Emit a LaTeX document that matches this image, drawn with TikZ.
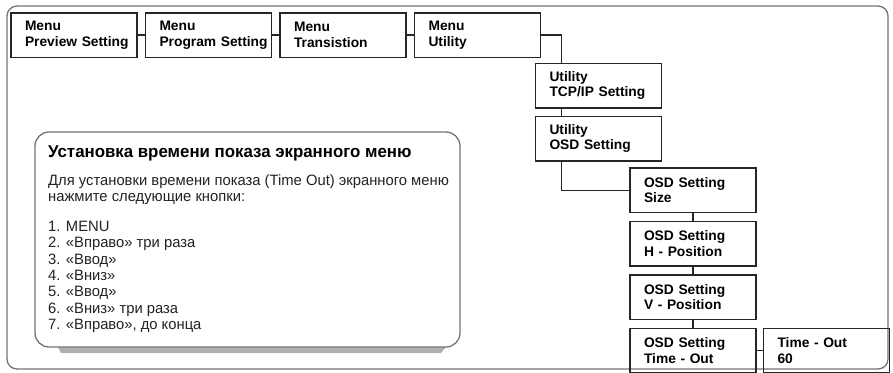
\documentclass[tikz,border=0pt]{standalone}
\usepackage{fontspec}
\setmainfont{Liberation Sans}
\newfontfamily\narrowfont{Liberation Sans}[FakeStretch=0.985]
\usetikzlibrary{positioning}
\definecolor{framegray}{RGB}{115,115,115}
\definecolor{shadowgray}{RGB}{175,175,175}
\definecolor{textgray}{RGB}{35,35,35}
\hyphenpenalty=10000
\exhyphenpenalty=10000

\begin{document}
\begin{tikzpicture}[x=1pt, y=-1pt,
            menubox/.style={rectangle, draw=black!85, line width=1.5pt,
                       minimum width=126pt, minimum height=44.5pt,
                       inner xsep=14pt, inner ysep=0pt, text width=98pt, align=left,
                       font=\fontsize{13.8}{15.5}\selectfont\bfseries},
            link/.style={line width=1.3pt, black!85},
            infotext/.style={inner sep=0pt, align=left, text=textgray,
                       font=\narrowfont\fontsize{15}{16.3}\selectfont}
        ]
            % Frame and background
            \useasboundingbox (0,0) rectangle (893,372);
            \draw[framegray, line width=1.3pt, rounded corners=10pt] (7,6) rectangle (888,369);

            % Top menu row
            \node[menubox] (preview) at (74,35) {Menu\\Preview~Setting};
            \node[menubox, right=7pt of preview] (program) {Menu\\Program~Setting};
            \node[menubox, right=7pt of program] (transition) {Menu\\Transistion};
            \node[menubox, right=7pt of transition] (utility) {Menu\\Utility};

            % Utility submenu
            \node[menubox] (tcpip) at (598.5,85.5) {Utility\\TCP/IP~Setting};
            \node[menubox, below=7pt of tcpip] (osd) {Utility\\OSD~Setting};

            % OSD submenu
            \node[menubox] (size) at (693,190.25) {OSD~Setting\\Size};
            \node[menubox, below=7.5pt of size] (hpos) {OSD~Setting\\H - Position};
            \node[menubox, below=7.5pt of hpos] (vpos) {OSD~Setting\\V - Position};
            \node[menubox, below=7.5pt of vpos] (timeout) {OSD~Setting\\Time - Out};
            \node[menubox, right=6pt of timeout] (value) {Time - Out\\60};

            % Connectors
            \draw[link] (preview) -- (program);
            \draw[link] (program) -- (transition);
            \draw[link] (transition) -- (utility);
            \draw[link] (utility.east) -| ([xshift=27pt]tcpip.north west);
            \draw[link] ([xshift=27pt]tcpip.south west) -- ([xshift=27pt]osd.north west);
            \draw[link] ([xshift=27pt]osd.south west) |- (size.west);
            \draw[link] (size) -- (hpos);
            \draw[link] (hpos) -- (vpos);
            \draw[link] (vpos) -- (timeout);
            \draw[link] (timeout) -- (value);

            % Info box with shadow
            \fill[shadowgray] (58,347) -- (446,347) -- (441,353) -- (61,353) -- cycle;
            \draw[framegray, fill=white, line width=1.3pt, rounded corners=14pt] (35,132) rectangle (460,347);
            \node[anchor=base west, inner sep=0pt, font=\narrowfont\fontsize{17.1}{18}\selectfont\bfseries] (infotitle) at (48,157)
                {Установка времени показа экранного меню};
            \node[infotext, anchor=north west] (intro) at (48,174)
                {Для установки времени показа (Time Out) экранного меню\\нажмите следующие кнопки:};
            \node[infotext, anchor=north west] (steps) at (48,221)
                {1. MENU\\2. «Вправо» три раза\\3. «Ввод»\\4. «Вниз»\\5. «Ввод»\\6. «Вниз» три раза\\7. «Вправо», до конца};
        \end{tikzpicture}
\end{document}
